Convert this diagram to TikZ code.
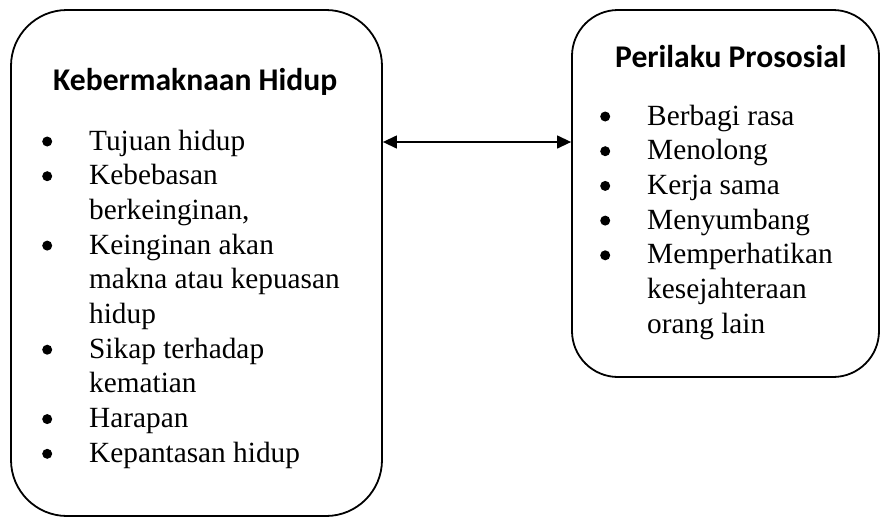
\documentclass[tikz,border=0pt]{standalone}
\usepackage{fontspec}
\setmainfont{Liberation Serif}
\newfontfamily\hdfont{Carlito}
\usepackage{array}
\usetikzlibrary{arrows.meta}
\newcommand\bul{\makebox[0pt]{\tikz[baseline={(0pt,-8.5pt)}]\fill (0pt,0pt) circle[radius=5pt];}}
\begin{document}
\begin{tikzpicture}[x=1pt,y=-1pt,
  box/.style={draw, line width=1.8pt, rounded corners=#1, inner sep=0pt},
  head/.style={font=\hdfont\bfseries\fontsize{31.6}{34}\selectfont, inner sep=0pt, anchor=base west},
  lst/.style={font=\fontsize{29.3}{34.7}\selectfont, inner sep=0pt, anchor=base west},
  conn/.style={{Triangle[length=14pt,width=13pt]}-{Triangle[length=14pt,width=13pt]}, line width=1.3pt}]
\useasboundingbox (0,0) rectangle (880,517);
\node[box=56pt, minimum width=371pt, minimum height=506pt] (L) at (196.5,263) {};
\node[box=46pt, minimum width=307pt, minimum height=367pt] (R) at (725.5,193.5) {};
\node[head] (LH) at (53,90) {Kebermaknaan Hidup};
\node[head] (RH) at (615,67) {Perilaku Prososial};
\node[lst] (LL) at (47,150) {\begin{tabular}[t]{@{}p{42pt}@{}l@{}}
\bul & Tujuan hidup\\
\bul & Kebebasan\\
 & berkeinginan,\\
\bul & Keinginan akan\\
 & makna atau kepuasan\\
 & hidup\\
\bul & Sikap terhadap\\
 & kematian\\
\bul & Harapan\\
\bul & Kepantasan hidup
\end{tabular}};
\node[lst] (RL) at (605,125) {\begin{tabular}[t]{@{}p{42pt}@{}l@{}}
\bul & Berbagi rasa\\
\bul & Menolong\\
\bul & Kerja sama\\
\bul & Menyumbang\\
\bul & Memperhatikan\\
 & kesejahteraan\\
 & orang lain
\end{tabular}};
\coordinate (ay) at (0,142);
\draw[conn] (L.east |- ay) -- (R.west |- ay);
\end{tikzpicture}
\end{document}
